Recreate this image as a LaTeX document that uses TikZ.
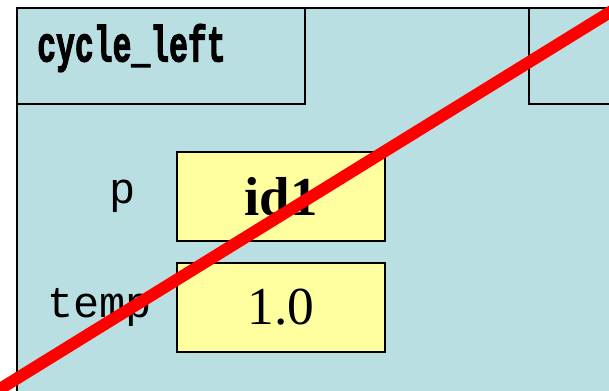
\documentclass[tikz,border=0pt]{standalone}
\usepackage{fontspec}
\setmainfont{Liberation Serif}
\newfontfamily\codefont{Liberation Mono}
\newfontfamily\hdrfont[BoldFeatures={FakeBold=2.5}]{Liberation Mono}
\usetikzlibrary{positioning}
\definecolor{framecol}{RGB}{185,223,227}
\definecolor{valcol}{RGB}{255,255,160}
\definecolor{crosscol}{RGB}{255,0,0}
\tikzset{
	hdrbox/.style={rectangle, draw=black, line width=1.4pt, fill=framecol, inner sep=0pt},
	varbox/.style={rectangle, draw=black, line width=1.2pt, fill=valcol,
		minimum width=5.2cm, minimum height=2.225cm, inner sep=0pt},
	varname/.style={font=\codefont\fontsize{31}{31}\selectfont, inner sep=0pt},
	valtext/.style={font=\fontsize{38}{38}\selectfont}
}
\begin{document}
\begin{tikzpicture}[x=0.025cm, y=-0.025cm]
	\useasboundingbox (0,0) rectangle (609,390);
	\begin{scope}
		\clip (0,0) rectangle (609,390);
		% call frame
		\draw[hdrbox] (17,8) rectangle (620,400);
		\draw[hdrbox] (17,8) rectangle (305,104);
		\draw[hdrbox] (529,8) rectangle (620,104);
	\end{scope}
	\node[anchor=west, inner sep=0pt, font=\hdrfont\bfseries\fontsize{36}{36}\selectfont] (fname) at (37,48) {\scalebox{0.62}[1]{cycle\_left}};
	\node[varbox] (pbox) at (281,196.5) {};
	\node[valtext, font=\bfseries\fontsize{39}{39}\selectfont] (pval) at (pbox) {id1};
	\node[varbox] (tbox) at (281,307.5) {};
	\node[valtext] (tval) at (tbox) {1.0};
	\node[varname, left=1.0cm of pbox] (pname) {p};
	\node[varname, left=0.6cm of tbox] (tname) {temp};
	% cross-out
	\coordinate (xa) at (-5,392);
	\coordinate (xb) at (615,9);
	\begin{scope}
		\clip (0,0) rectangle (609,390);
		\draw[crosscol, line width=8.5pt] (xa) -- (xb);
	\end{scope}
\end{tikzpicture}
\end{document}
